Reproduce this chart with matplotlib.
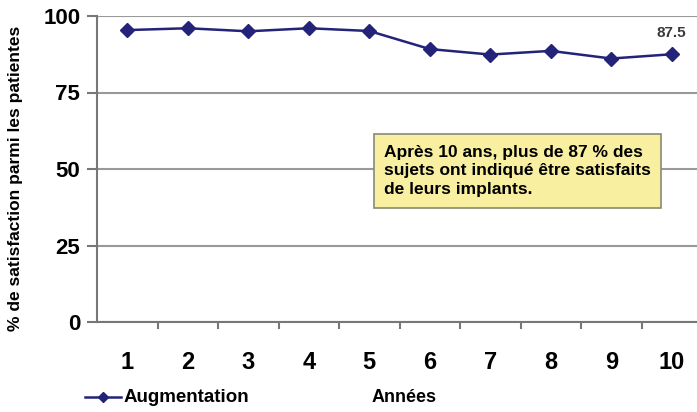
import matplotlib.pyplot as plt
from matplotlib.lines import Line2D

plt.rcParams['font.family'] = ['Liberation Sans', 'DejaVu Sans']

annees = [1, 2, 3, 4, 5, 6, 7, 8, 9, 10]
satisfaction = [95.4, 96.0, 95.0, 96.0, 95.1, 89.2, 87.4, 88.6, 86.1, 87.5]
y_ticks = [0, 25, 50, 75, 100]

fig = plt.figure(figsize=(6.97, 4.12), dpi=100)
ax = fig.add_axes([97 / 697, (412 - 322) / 412, 605 / 697, 306 / 412])

navy = '#23237a'
ax.plot(annees, satisfaction, color=navy, lw=1.8, marker='D', ms=7,
        markeredgecolor=navy, markerfacecolor=navy, zorder=3)
ax.annotate('87.5', (annees[-1], satisfaction[-1]), xytext=(0, 10),
            textcoords='offset points', ha='center', va='bottom',
            fontsize=11, fontweight='bold', color='#3a3a3a')

ax.set_xlim(0.5, 10.5)
ax.set_ylim(0, 100)
ax.set_yticks(y_ticks)
ax.set_yticklabels([str(v) for v in y_ticks], fontsize=16, fontweight='bold')
ax.set_xticks(annees)
ax.set_xticklabels([str(v) for v in annees], fontsize=17, fontweight='bold')
ax.set_xticks([a + 0.5 for a in annees[:-1]], minor=True)
ax.tick_params(axis='x', which='major', length=0, pad=21)
ax.tick_params(axis='x', which='minor', length=5, width=1.5, color='#777777', direction='out')
ax.tick_params(axis='y', length=7, width=1.5, color='#777777', pad=5)

ax.grid(axis='y', color='#999999', lw=1.5)
ax.set_axisbelow(True)
for s in ['top', 'right']:
    ax.spines[s].set_visible(False)
for s in ['left', 'bottom']:
    ax.spines[s].set_color('#777777')
    ax.spines[s].set_linewidth(1.5)

ax.set_ylabel('% de satisfaction parmi les patientes', fontsize=12.5,
              fontweight='bold')
ax.yaxis.set_label_coords(-0.122, 0.47)

fig.text(384 / 697, 1 - 171 / 412,
         'Après 10 ans, plus de 87 % des\nsujets ont indiqué être satisfaits\nde leurs implants.',
         fontsize=12.5, fontweight='bold', ha='left', va='center', linespacing=1.3,
         bbox=dict(boxstyle='square,pad=0.6', facecolor='#f8f0a0',
                   edgecolor='#8a8a70', lw=1.2))

# legend drawn by hand at the bottom
fig.add_artist(Line2D([85 / 697, 121 / 697], [1 - 397 / 412] * 2, transform=fig.transFigure,
                      color=navy, lw=1.8))
fig.add_artist(Line2D([103 / 697], [1 - 397 / 412], transform=fig.transFigure,
                      color=navy, marker='D', ms=5, markeredgecolor=navy))
fig.text(124 / 697, 1 - 397 / 412, 'Augmentation', fontsize=13.5, fontweight='bold',
         ha='left', va='center')
fig.text(372 / 697, 1 - 397 / 412, 'Années', fontsize=13, fontweight='bold',
         ha='left', va='center')

fig.savefig('out.png', dpi=100)
